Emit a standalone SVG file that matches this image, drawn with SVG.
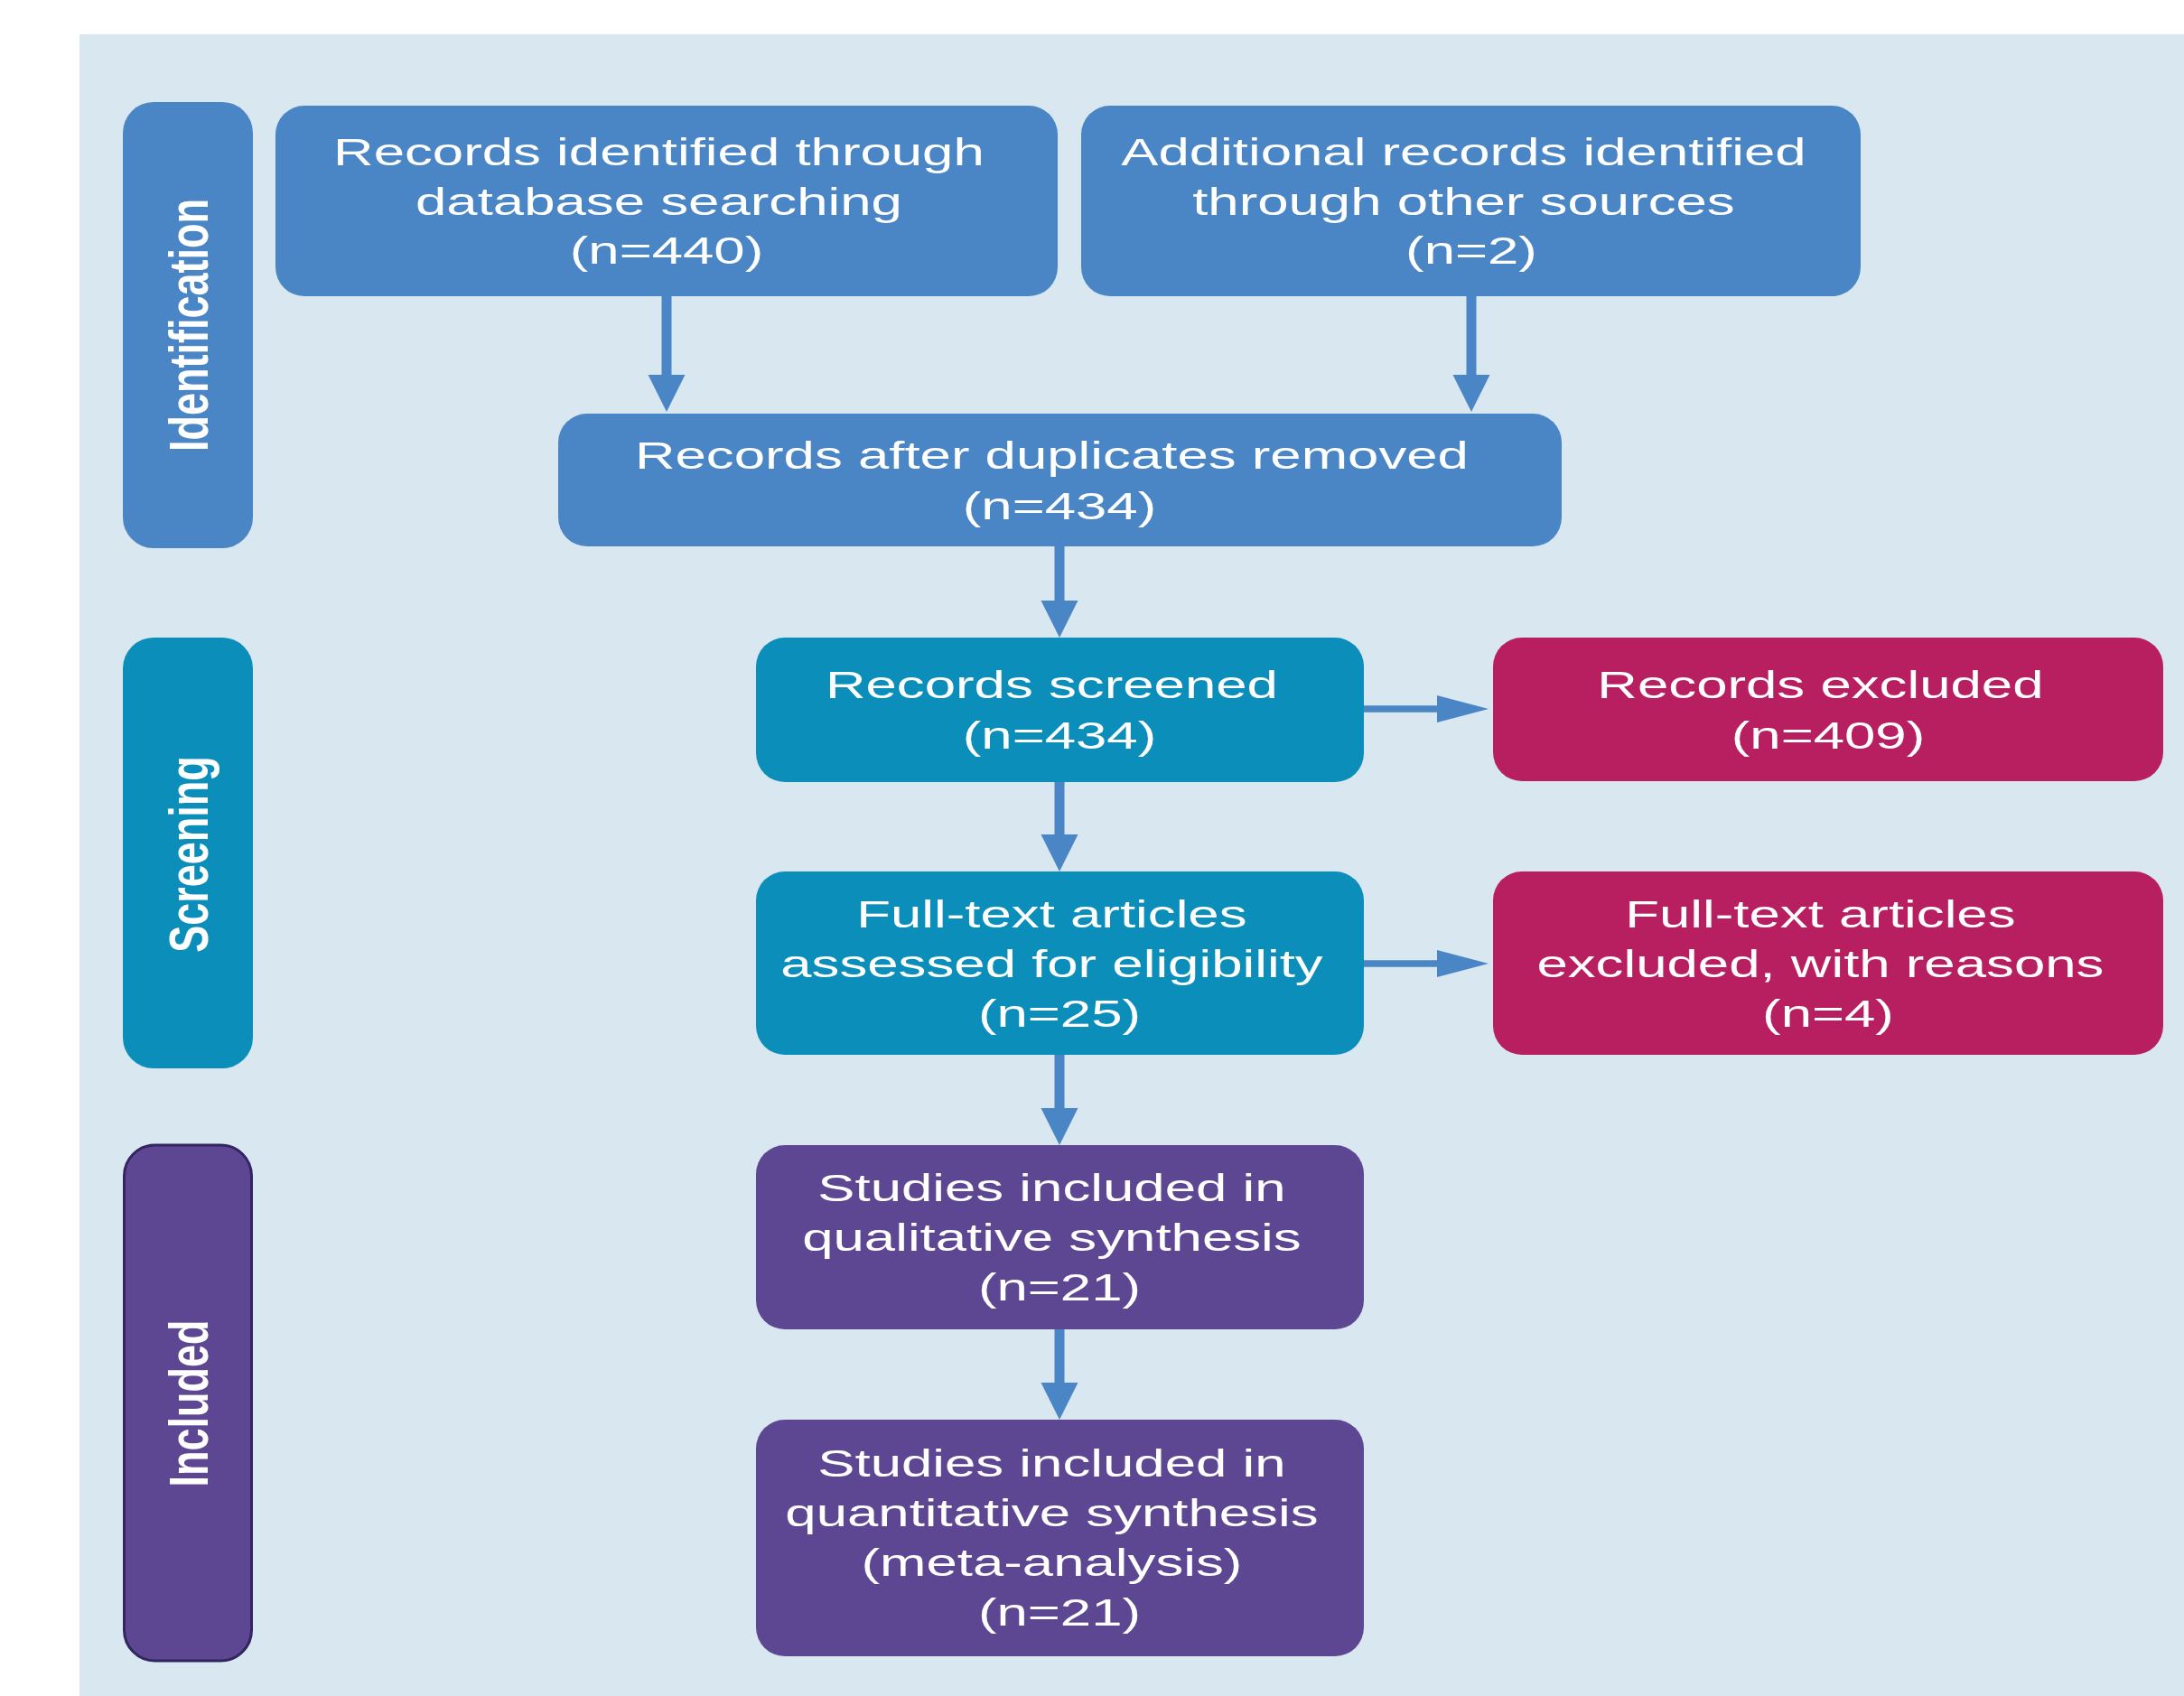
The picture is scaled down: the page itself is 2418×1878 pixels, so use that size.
<svg xmlns="http://www.w3.org/2000/svg" width="2418" height="1878" viewBox="0 0 2418 1878">
  <style>
    .t { font-family: "Liberation Sans", Arial, sans-serif; font-size: 42px; fill: #ffffff; text-anchor: middle; }
    .side { font-family: "Liberation Sans", Arial, sans-serif; font-size: 45px; font-weight: bold; fill: #ffffff; text-anchor: middle; }
    .blue { fill: #4a85c5; }
    .teal { fill: #0b8fba; }
    .mag { fill: #b71f61; }
    .pur { fill: #5d4793; }
    .conn { stroke: #4a85c5; fill: none; }
    .v { stroke-width: 11; }
    .h { stroke-width: 7.5; }
  </style>
  <defs>
    <marker id="headV" markerUnits="userSpaceOnUse" markerWidth="42" markerHeight="42" refX="0" refY="20.5" orient="auto" overflow="visible">
      <path d="M0,0 L41,20.5 L0,41 Z" fill="#4a85c5"/>
    </marker>
    <marker id="headH" markerUnits="userSpaceOnUse" markerWidth="58" markerHeight="31" refX="0" refY="15" orient="auto" overflow="visible">
      <path d="M0,0 L57,15 L0,30 Z" fill="#4a85c5"/>
    </marker>
  </defs>

  <rect x="0" y="0" width="2418" height="1878" fill="#ffffff"/>
  <rect x="88" y="38" width="2330" height="1840" fill="#d9e7f1"/>

  <g id="phase-identification">
    <rect class="blue" x="136" y="113" width="144" height="494" rx="34"/>
    <text class="side" transform="translate(208 360) scale(1.35 1) rotate(-90)" x="0" y="16">Identification</text>
  </g>
  <g id="phase-screening">
    <rect class="teal" x="136" y="706" width="144" height="477" rx="34"/>
    <text class="side" transform="translate(208 946) scale(1.35 1) rotate(-90)" x="0" y="16">Screening</text>
  </g>
  <g id="phase-included">
    <rect class="pur" x="137.5" y="1268" width="141" height="571" rx="34" stroke="#33255f" stroke-width="3"/>
    <text class="side" transform="translate(208 1554) scale(1.35 1) rotate(-90)" x="0" y="16">Included</text>
  </g>

  <g id="connectors">
    <path class="conn v" d="M738,328 V415" marker-end="url(#headV)"/>
    <path class="conn v" d="M1629,328 V415" marker-end="url(#headV)"/>
    <path class="conn v" d="M1173,605 V665" marker-end="url(#headV)"/>
    <path class="conn v" d="M1173,866 V924" marker-end="url(#headV)"/>
    <path class="conn v" d="M1173,1168 V1227" marker-end="url(#headV)"/>
    <path class="conn v" d="M1173,1472 V1531" marker-end="url(#headV)"/>
    <path class="conn h" d="M1510,785 H1591" marker-end="url(#headH)"/>
    <path class="conn h" d="M1510,1067 H1591" marker-end="url(#headH)"/>
  </g>

  <g id="node-db-records">
    <rect class="blue" x="305" y="117" width="866" height="211" rx="32"/>
    <text class="t" transform="translate(738 0) scale(1.47 1)">
      <tspan x="0" y="183">Records identified through</tspan>
      <tspan x="0" y="238">database searching</tspan>
      <tspan x="0" y="292">(n=440)</tspan>
    </text>
  </g>
  <g id="node-other-records">
    <rect class="blue" x="1197" y="117" width="863" height="211" rx="32"/>
    <text class="t" transform="translate(1629 0) scale(1.47 1)">
      <tspan x="0" y="183">Additional records identified</tspan>
      <tspan x="0" y="238">through other sources</tspan>
      <tspan x="0" y="292">(n=2)</tspan>
    </text>
  </g>
  <g id="node-duplicates">
    <rect class="blue" x="618" y="458" width="1111" height="147" rx="32"/>
    <text class="t" transform="translate(1173 0) scale(1.47 1)">
      <tspan x="0" y="519">Records after duplicates removed</tspan>
      <tspan x="0" y="575">(n=434)</tspan>
    </text>
  </g>
  <g id="node-screened">
    <rect class="teal" x="837" y="706" width="673" height="160" rx="32"/>
    <text class="t" transform="translate(1173 0) scale(1.47 1)">
      <tspan x="0" y="773">Records screened</tspan>
      <tspan x="0" y="829">(n=434)</tspan>
    </text>
  </g>
  <g id="node-excluded">
    <rect class="mag" x="1653" y="706" width="742" height="159" rx="32"/>
    <text class="t" transform="translate(2024 0) scale(1.47 1)">
      <tspan x="0" y="773">Records excluded</tspan>
      <tspan x="0" y="829">(n=409)</tspan>
    </text>
  </g>
  <g id="node-fulltext">
    <rect class="teal" x="837" y="965" width="673" height="203" rx="32"/>
    <text class="t" transform="translate(1173 0) scale(1.47 1)">
      <tspan x="0" y="1027">Full-text articles</tspan>
      <tspan x="0" y="1082">assessed for eligibility</tspan>
      <tspan x="0" y="1137">(n=25)</tspan>
    </text>
  </g>
  <g id="node-fulltext-excluded">
    <rect class="mag" x="1653" y="965" width="742" height="203" rx="32"/>
    <text class="t" transform="translate(2024 0) scale(1.47 1)">
      <tspan x="0" y="1027">Full-text articles</tspan>
      <tspan x="0" y="1082">excluded, with reasons</tspan>
      <tspan x="0" y="1137">(n=4)</tspan>
    </text>
  </g>
  <g id="node-qualitative">
    <rect class="pur" x="837" y="1268" width="673" height="204" rx="32"/>
    <text class="t" transform="translate(1173 0) scale(1.47 1)">
      <tspan x="0" y="1330">Studies included in</tspan>
      <tspan x="0" y="1385">qualitative synthesis</tspan>
      <tspan x="0" y="1440">(n=21)</tspan>
    </text>
  </g>
  <g id="node-quantitative">
    <rect class="pur" x="837" y="1572" width="673" height="262" rx="32"/>
    <text class="t" transform="translate(1173 0) scale(1.47 1)">
      <tspan x="0" y="1635">Studies included in</tspan>
      <tspan x="0" y="1690">quantitative synthesis</tspan>
      <tspan x="0" y="1745">(meta-analysis)</tspan>
      <tspan x="0" y="1800">(n=21)</tspan>
    </text>
  </g>
</svg>
